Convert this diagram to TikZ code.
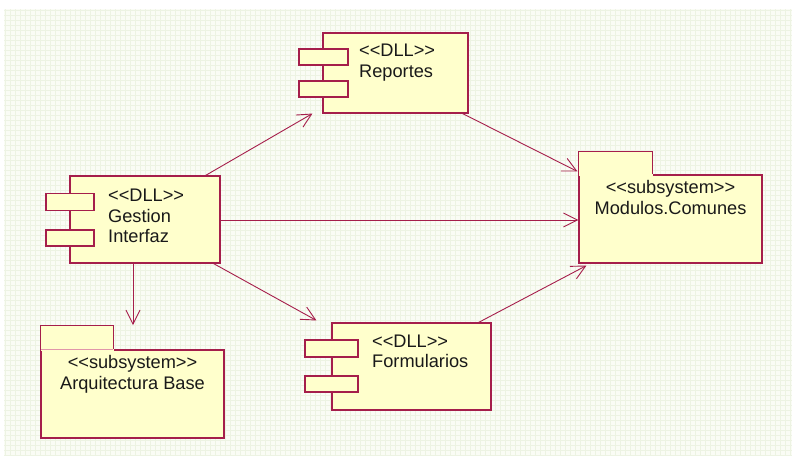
\documentclass[tikz,border=0pt]{standalone}
\usepackage{fontspec}
\setmainfont{Liberation Sans}
\usetikzlibrary{arrows.meta}
\definecolor{umlline}{RGB}{165,30,75}
\definecolor{umlfill}{RGB}{255,255,204}
\definecolor{sheet}{RGB}{250,252,245}
\definecolor{sheetgrid}{RGB}{237,243,227}
\definecolor{tabsep}{RGB}{225,150,170}
\tikzset{
  comp/.style={draw=umlline, fill=umlfill, line width=1.1pt, inner sep=0pt},
  port/.style={draw=umlline, fill=umlfill, line width=1.1pt, inner sep=0pt},
  pkgbody/.style={draw=umlline, fill=umlfill, line width=1.1pt, inner sep=0pt},
  pkgtab/.style={fill=umlfill, inner sep=0pt},
  label/.style={inner sep=0pt, font=\fontsize{18.2}{20.5}\selectfont, text=black!90},
  dep/.style={draw=umlline, line width=0.9pt,
    -{Straight Barb[length=14pt,width=14pt,line width=0.9pt]}}
}
\begin{document}
\begin{tikzpicture}[x=1pt,y=-1pt]
\useasboundingbox (0,0) rectangle (792,456);
% drawing sheet with its light grid
\fill[sheet] (4,9) rectangle (792,456);
\begin{scope}
\clip (4,9) rectangle (792,456);
\draw[sheetgrid, line width=0.35pt, step=5pt] (0,0) grid (792,456);
\end{scope}

% component Reportes
\node[comp, minimum width=145pt, minimum height=80pt] (rep) at (395.5,73) {};
\node[port, minimum width=49pt, minimum height=16pt] (repp1) at (323.5,57) {};
\node[port, minimum width=49pt, minimum height=16pt] (repp2) at (323.5,89) {};
\node[label, anchor=base west, align=left] (reptxt) at (359,77) {<{}<DLL>{}>\\Reportes};

% component Gestion Interfaz
\node[comp, minimum width=150pt, minimum height=87pt] (gest) at (145,219.5) {};
\node[port, minimum width=48pt, minimum height=17pt] (gestp1) at (70,202) {};
\node[port, minimum width=48pt, minimum height=16pt] (gestp2) at (70,238) {};
\node[label, anchor=base west, align=left] (gesttxt) at (108,242.5) {<{}<DLL>{}>\\Gestion\\Interfaz};

% component Formularios
\node[comp, minimum width=159pt, minimum height=87pt] (form) at (411.5,366.5) {};
\node[port, minimum width=53pt, minimum height=17pt] (formp1) at (331.5,348.5) {};
\node[port, minimum width=53pt, minimum height=16pt] (formp2) at (331.5,384) {};
\node[label, anchor=base west, align=left] (formtxt) at (372,367.5) {<{}<DLL>{}>\\Formularios};

% subsystem Arquitectura Base
\node[pkgbody, minimum width=183pt, minimum height=88pt] (arq) at (132.5,394) {};
\node[pkgtab, anchor=south west, minimum width=73pt, minimum height=25.5pt] (arqtab) at ([yshift=-1.5pt]arq.north west) {};
\draw[umlline, line width=1.1pt] (arq.north west) -- (arqtab.north west) -- (arqtab.north east) -- (arqtab.north east |- arq.north);
\draw[tabsep, line width=0.8pt] ([xshift=0.6pt]arq.north west) -- ([xshift=-0.6pt]arqtab.north east |- arq.north);
\node[label, anchor=base, align=center] (arqtxt) at (132.5,389) {<{}<subsystem>{}>\\Arquitectura Base};

% subsystem Modulos.Comunes
\node[pkgbody, minimum width=183pt, minimum height=88pt] (mod) at (670.5,219) {};
\node[pkgtab, anchor=south west, minimum width=74pt, minimum height=24.5pt] (modtab) at ([yshift=-1.5pt]mod.north west) {};
\draw[umlline, line width=1.1pt] (mod.north west) -- (modtab.north west) -- (modtab.north east) -- (modtab.north east |- mod.north);
\node[label, anchor=base, align=center] (modtxt) at (670.5,214) {<{}<subsystem>{}>\\Modulos.Comunes};

% dependencies
\draw[dep] ([xshift=-15pt]gest.north east) -- ([xshift=-10pt]rep.south west);
\draw[dep] ([xshift=-6pt]rep.south east) -- ([xshift=-1pt,yshift=3pt]mod.north west);
\draw[dep] ([yshift=-0.5pt]gest.east) -- ([yshift=-0.5pt]gest.east -| mod.west);
\draw[dep] ([xshift=-12pt]gest.south) -- ([xshift=-12pt]gest.south |- arqtab.north);
\draw[dep] ([xshift=-7pt]gest.south east) -- ([xshift=-15pt,yshift=2pt]form.north west);
\draw[dep] ([xshift=-13pt]form.north east) -- ([xshift=8pt,yshift=-2pt]mod.south west);
\end{tikzpicture}
\end{document}
